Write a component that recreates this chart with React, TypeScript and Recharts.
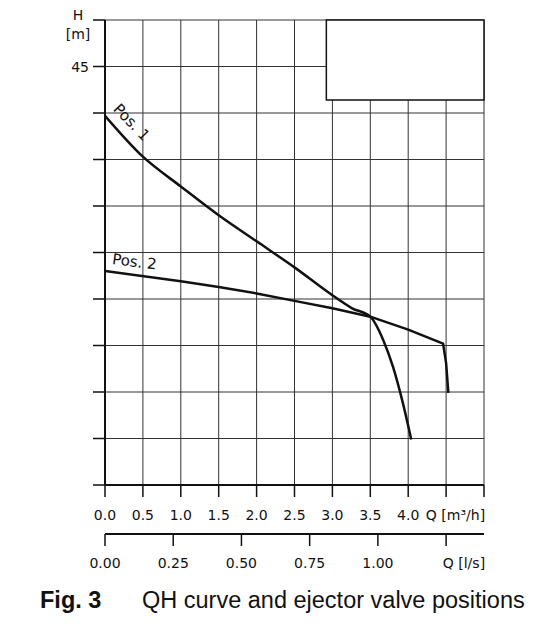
import { LineChart, Line, XAxis, YAxis, CartesianGrid, ReferenceArea, ReferenceDot } from 'recharts';

// Q in m³/h, H in m
const pos1Q = [0, 0.5, 1.0, 1.5, 2.0, 2.5, 3.0, 3.26, 3.5, 3.67, 3.8, 3.93, 4.04];
const pos1H = [39.7, 35.3, 32.1, 29.0, 26.2, 23.4, 20.4, 19.0, 18.1, 15.6, 12.7, 8.8, 4.9];

const pos2Q = [0, 1.0, 1.5, 2.0, 2.5, 3.0, 3.5, 4.0, 4.46, 4.5, 4.53];
const pos2H = [23.0, 21.9, 21.3, 20.6, 19.8, 19.0, 18.1, 16.7, 15.2, 13.1, 9.9];

const qTicks = [0, 0.5, 1.0, 1.5, 2.0, 2.5, 3.0, 3.5, 4.0, 4.5, 5.0];
const qLabels = ['0.0', '0.5', '1.0', '1.5', '2.0', '2.5', '3.0', '3.5', '4.0', 'Q [m³/h]', ''];

// l/s ticks placed on the m³/h scale (1 l/s = 3.6 m³/h)
const lsTicks = [0, 0.9, 1.8, 2.7, 3.6, 4.5];
const lsLabels = ['0.00', '0.25', '0.50', '0.75', '1.00', 'Q [l/s]'];

const hTicks = [0, 5, 10, 15, 20, 25, 30, 35, 40, 45, 50];

const pos1 = pos1Q.map((q, i) => ({ q, h: pos1H[i] }));
const pos2 = pos2Q.map((q, i) => ({ q, h: pos2H[i] }));

const FONT = '"DejaVu Sans", sans-serif';

const QTick = ({ x, y, payload }: any) => {
  const i = qTicks.indexOf(payload.value);
  const label = qLabels[i] ?? '';
  const last = payload.value === 4.5;
  return (
    <text x={last ? x + 39 : x} y={y} dy={23} textAnchor={last ? 'end' : 'middle'} fontFamily={FONT} fontSize={14} fill="#111">
      {label}
    </text>
  );
};

const LsTick = ({ x, y, payload }: any) => {
  const i = lsTicks.indexOf(payload.value);
  const label = lsLabels[i] ?? '';
  const last = payload.value === 4.5;
  return (
    <text x={last ? x + 39 : x} y={y} dy={22} textAnchor={last ? 'end' : 'middle'} fontFamily={FONT} fontSize={14} fill="#111">
      {label}
    </text>
  );
};

const HTick = ({ x, y, payload }: any) => {
  if (payload.value === 45) {
    return (
      <text x={x - 4} y={y} dy={5} textAnchor="end" fontFamily={FONT} fontSize={14} fill="#111">45</text>
    );
  }
  if (payload.value === 50) {
    return (
      <g fontFamily={FONT} fontSize={14} fill="#111">
        <text x={x - 15} y={y} dy={0} textAnchor="middle">H</text>
        <text x={x - 15} y={y} dy={19} textAnchor="middle">[m]</text>
      </g>
    );
  }
  return null;
};

const curveLabel = (text: string, angle: number) => (p: any) => (
  <text
    x={p.cx}
    y={p.cy}
    transform={`rotate(${angle} ${p.cx} ${p.cy})`}
    textAnchor="middle"
    dominantBaseline="central"
    fontFamily={FONT}
    fontSize={15}
    fill="#111"
  >
    {text}
  </text>
);

export default function App() {
  return (
    <div style={{ position: 'absolute', left: 0, top: 0, width: 539, height: 629, background: '#fff' }}>
      <LineChart width={539} height={629} margin={{ top: 20, right: 55, left: 0, bottom: 50 }}>
        <CartesianGrid stroke="#333" strokeWidth={1} horizontalValues={hTicks} verticalValues={qTicks} />
        <XAxis
          type="number"
          dataKey="q"
          domain={[0, 5]}
          ticks={qTicks}
          interval={0}
          height={49}
          tickSize={12}
          tickMargin={0}
          axisLine={{ stroke: '#111', strokeWidth: 2 }}
          tickLine={{ stroke: '#111', strokeWidth: 1.5 }}
          tick={<QTick />}
          allowDataOverflow
        />
        <XAxis
          xAxisId="ls"
          type="number"
          dataKey="q"
          domain={[0, 5]}
          ticks={lsTicks}
          interval={0}
          height={45}
          tickSize={12}
          tickMargin={0}
          axisLine={{ stroke: '#111', strokeWidth: 2 }}
          tickLine={{ stroke: '#111', strokeWidth: 1.5 }}
          tick={<LsTick />}
          allowDataOverflow
        />
        <YAxis
          type="number"
          domain={[0, 50]}
          ticks={hTicks}
          interval={0}
          width={105}
          tickSize={12}
          tickMargin={0}
          axisLine={{ stroke: '#111', strokeWidth: 2 }}
          tickLine={{ stroke: '#111', strokeWidth: 1.5 }}
          tick={<HTick />}
          allowDataOverflow
        />
        <ReferenceArea x1={2.92} x2={5} y1={41.4} y2={50} fill="#fff" fillOpacity={1} stroke="#111" strokeWidth={1.5} />
        <Line data={pos1} dataKey="h" type="monotone" stroke="#111" strokeWidth={2.5} dot={false} isAnimationActive={false} />
        <Line data={pos2} dataKey="h" type="linear" stroke="#111" strokeWidth={2.5} dot={false} isAnimationActive={false} />
        {/* invisible series so the l/s axis gets a scale */}
        <Line xAxisId="ls" data={pos2} dataKey="h" stroke="none" dot={false} activeDot={false} isAnimationActive={false} />
        <ReferenceDot x={0.35} y={39.0} r={1} shape={curveLabel('Pos. 1', 46)} />
        <ReferenceDot x={0.39} y={24.0} r={1} shape={curveLabel('Pos. 2', 7)} />
      </LineChart>
      <div style={{ position: 'absolute', left: 40, top: 587, fontFamily: '"Liberation Sans", Arial, sans-serif', fontSize: 23.5, color: '#111', whiteSpace: 'nowrap' }}>
        <span style={{ fontWeight: 'bold' }}>Fig. 3</span>
        <span style={{ position: 'absolute', left: 102 }}>QH curve and ejector valve positions</span>
      </div>
    </div>
  );
}
